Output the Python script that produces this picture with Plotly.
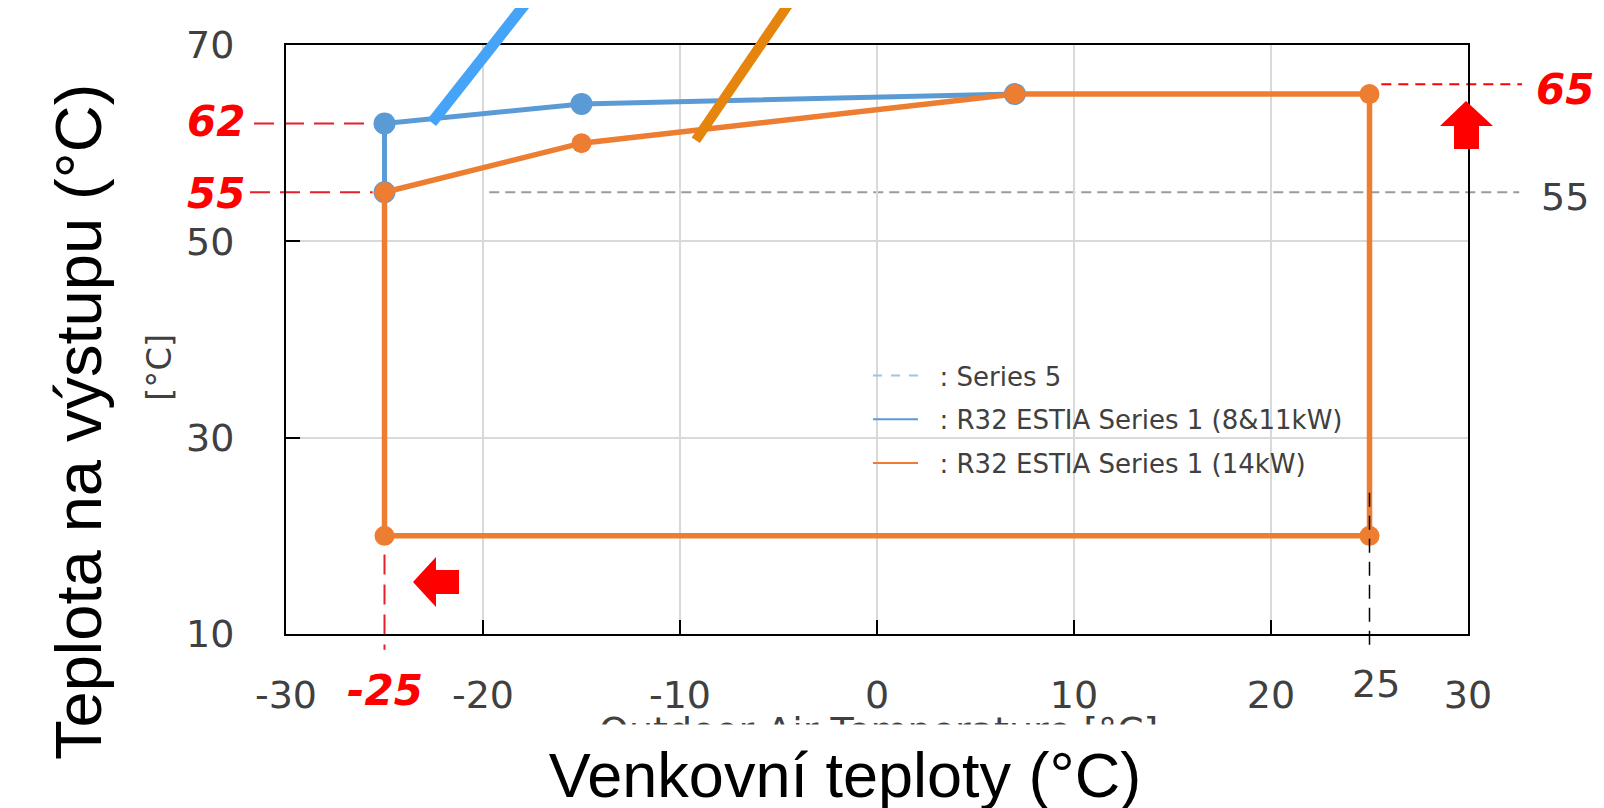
import plotly.graph_objects as go

# ---------------- data ----------------
BLUE_NAME = "\u00a0\u00a0: R32 ESTIA Series 1 (8&11kW)"
ORANGE_NAME = "\u00a0\u00a0: R32 ESTIA Series 1 (14kW)"
S5_NAME = "\u00a0\u00a0: Series 5"

blue_x = [-25, -25, -15, 7]
blue_y = [55, 62, 64, 65]
orange_x = [-25, -15, 7, 25, 25, -25, -25]
orange_y = [55, 60, 65, 65, 20, 20, 55]

series5_x = [-20, -20, 32.6]
series5_y = [10, 55, 55]

x_ticks = [-30, -20, -10, 0, 10, 20, 30]
y_ticks = [10, 30, 50, 70]
X_RANGE = [-30, 30]
Y_RANGE = [10, 70]

# ---------------- layout geometry (screen pixels) ----------------
OFF = 8                      # default page body margin
FW, FH = 1604 - OFF, 808 - OFF
L, R, T, B = 286, 1468, 45, 634   # plot area on screen
PW, PH = R - L, B - T


def xp(x):  # data x -> paper
    return (x - X_RANGE[0]) / (X_RANGE[1] - X_RANGE[0])


def yp(y):  # data y -> paper
    return (y - Y_RANGE[0]) / (Y_RANGE[1] - Y_RANGE[0])


def PX(X):  # screen pixel x -> paper
    return (X - L) / PW


def PY(Y):  # screen pixel y -> paper
    return (B - Y) / PH


BLUE = "#5b9bd5"
ORANGE = "#ed7d31"
RED = "#ff0000"
TXT = "#404040"
TICKFONT = "DejaVu Sans, Verdana, sans-serif"

fig = go.Figure()
# legend entries (thin line samples)
fig.add_trace(go.Scatter(x=[None], y=[None], mode="lines", name=S5_NAME,
                         line=dict(color="#9dc3e6", width=2, dash="dash"), legendgroup="a"))
fig.add_trace(go.Scatter(x=[None], y=[None], mode="lines", name=BLUE_NAME,
                         line=dict(color=BLUE, width=2), legendgroup="b"))
fig.add_trace(go.Scatter(x=[None], y=[None], mode="lines", name=ORANGE_NAME,
                         line=dict(color=ORANGE, width=2), legendgroup="c"))
# data
fig.add_trace(go.Scatter(x=blue_x, y=blue_y, mode="lines+markers", name=BLUE_NAME,
                         line=dict(color=BLUE, width=5), showlegend=False,
                         marker=dict(color=BLUE, size=22), legendgroup="b"))
fig.add_trace(go.Scatter(x=orange_x, y=orange_y, mode="lines+markers", name=ORANGE_NAME,
                         line=dict(color=ORANGE, width=5.5), showlegend=False,
                         marker=dict(color=ORANGE, size=20), legendgroup="c"))

shapes = []
# grey dashed 55 line (Series 5)
path = "M " + " L ".join(f"{xp(x):.5f},{yp(y):.5f}" for x, y in zip(series5_x, series5_y))
shapes.append(dict(type="path", xref="paper", yref="paper", path=path,
                   line=dict(color="#9a9a9a", width=2, dash="10px,6px"), layer="between"))
# red dashed guides
shapes.append(dict(type="line", xref="paper", yref="paper", x0=PX(254), x1=xp(-25.6),
                   y0=yp(62), y1=yp(62), line=dict(color="#e5202a", width=2, dash="20px,10px"),
                   layer="between"))
shapes.append(dict(type="line", xref="paper", yref="paper", x0=PX(250), x1=xp(-25.6),
                   y0=yp(55), y1=yp(55), line=dict(color="#e5202a", width=2, dash="20px,10px"),
                   layer="between"))
shapes.append(dict(type="line", xref="paper", yref="paper", x0=xp(-25), x1=xp(-25),
                   y0=yp(24.2), y1=yp(8.4), line=dict(color="#e5202a", width=2, dash="20px,10px"),
                   layer="between"))
shapes.append(dict(type="line", xref="paper", yref="paper", x0=xp(25.6), x1=PX(1522),
                   y0=yp(66), y1=yp(66), line=dict(color="#ff0000", width=2, dash="10px,7px"),
                   layer="between"))
# black dashed at 25
shapes.append(dict(type="line", xref="paper", yref="paper", x0=xp(25), x1=xp(25),
                   y0=yp(24.4), y1=yp(8.2), line=dict(color="#000000", width=1.5, dash="14px,9px"),
                   layer="above"))
# pointer lines
shapes.append(dict(type="line", xref="paper", yref="paper", x0=xp(-22.6), y0=yp(62.1),
                   x1=xp(-17.3), y1=yp(75.6), line=dict(color="#45a4f8", width=11), layer="above"))
shapes.append(dict(type="line", xref="paper", yref="paper", x0=xp(-9.2), y0=yp(60.3),
                   x1=xp(-4.0), y1=yp(75.6), line=dict(color="#e6850e", width=10), layer="above"))


def poly(pts):
    return "M " + " L ".join(f"{PX(a):.5f},{PY(b):.5f}" for a, b in pts) + " Z"


# red arrows
up = [(1466, 101), (1493, 126), (1479, 126), (1479, 149), (1454, 149), (1454, 126), (1440, 126)]
left = [(413, 582), (436, 557), (436, 570), (459, 570), (459, 594), (436, 594), (436, 607)]
for pts in (up, left):
    shapes.append(dict(type="path", xref="paper", yref="paper", path=poly(pts),
                       fillcolor=RED, line=dict(width=0), layer="above"))

ann = []


def label(text, X, Y, size, color=TXT, family=TICKFONT, angle=0, **kw):
    ann.append(dict(text=text, x=PX(X), y=PY(Y), xref="paper", yref="paper",
                    showarrow=False, xanchor="center", yanchor="middle", textangle=angle,
                    font=dict(size=size, color=color, family=family), **kw))


label("<b><i>62</i></b>", 216, 121, 42, RED)
label("<b><i>55</i></b>", 216, 194, 42, RED)
label("<b><i>-25</i></b>", 385, 690, 42, RED)
label("<b><i>65</i></b>", 1565, 89, 42, RED)
label("25", 1376, 684, 38)
label("55", 1565, 197, 38)
label("[°C]", 159, 368, 34, angle=-90)
label("Outdoor Air Temperature [°C]", 878, 731, 38)
label("Venkovní teploty (°C)", 845, 775, 63, color="#000000",
      family="Liberation Sans, Arial, sans-serif", bgcolor="#ffffff", width=720, height=98)
label("Teplota na výstupu (°C)", 79, 422, 65, color="#000000",
      family="Liberation Sans, Arial, sans-serif", angle=-90)

fig.update_layout(
    width=FW, height=FH,
    margin=dict(l=L - OFF, r=FW - (R - OFF), t=T - OFF, b=FH - (B - OFF), autoexpand=False),
    paper_bgcolor="white", plot_bgcolor="white",
    shapes=shapes, annotations=ann,
    showlegend=True,
    legend=dict(x=PX(868), y=PY(352), xanchor="left", yanchor="top",
                font=dict(family=TICKFONT, size=26, color=TXT),
                bgcolor="rgba(0,0,0,0)", tracegroupgap=7, itemwidth=45),
    xaxis=dict(range=X_RANGE, tickvals=x_ticks, ticktext=[str(v) for v in x_ticks],
               ticks="inside", ticklen=14, tickwidth=2, tickcolor="black",
               showline=True, linecolor="black", linewidth=2, mirror=True,
               showgrid=True, gridcolor="#d9d9d9", gridwidth=1.5, zeroline=False,
               tickfont=dict(family=TICKFONT, size=38, color=TXT), ticklabelstandoff=26),
    yaxis=dict(range=Y_RANGE, tickvals=y_ticks, ticktext=[str(v) for v in y_ticks],
               ticks="inside", ticklen=14, tickwidth=2, tickcolor="black",
               showline=True, linecolor="black", linewidth=2, mirror=True,
               showgrid=True, gridcolor="#d9d9d9", gridwidth=1.5, zeroline=False,
               tickfont=dict(family=TICKFONT, size=38, color=TXT), ticklabelstandoff=42),
)

fig.write_html("out.html")
